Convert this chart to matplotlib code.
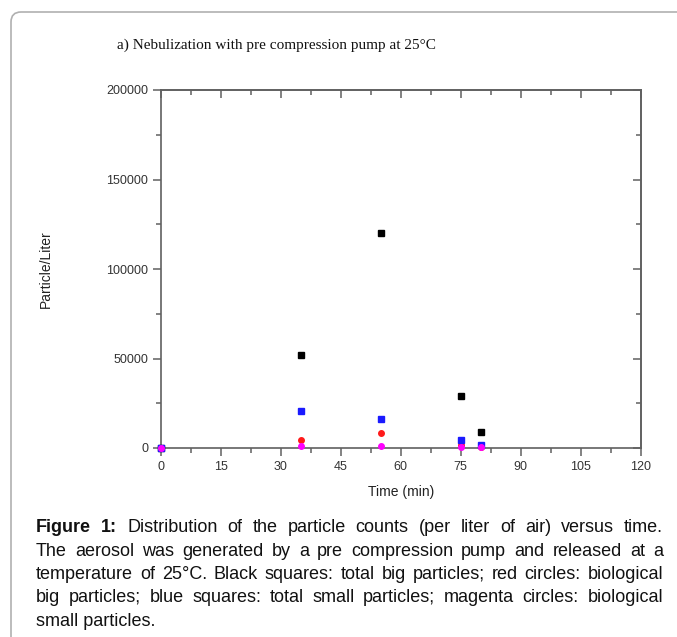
import matplotlib
matplotlib.use('Agg')
import matplotlib.pyplot as plt
from matplotlib.patches import FancyBboxPatch
from matplotlib.ticker import MultipleLocator
from matplotlib.transforms import IdentityTransform

# Values
times = [0, 35, 55, 75, 80]
total_big = [0, 52000, 120000, 29000, 8800]      # black squares
bio_big = [0, 4400, 8300, 1800, 400]             # red circles
total_small = [0, 20800, 16200, 4200, 1600]      # blue squares
bio_small = [0, 1100, 900, 700, 500]             # magenta circles

title = "a) Nebulization with pre compression pump at 25°C"
x_label = "Time (min)"
y_label = "Particle/Liter"
caption_lines = [
    "Figure 1: Distribution of the particle counts (per liter of air) versus time.",
    "The aerosol was generated by a pre compression pump and released at a",
    "temperature of 25°C. Black squares: total big particles; red circles: biological",
    "big particles; blue squares: total small particles; magenta circles: biological",
    "small particles.",
]

W, H = 677, 637
plt.rcParams['font.family'] = ['Liberation Sans', 'DejaVu Sans']


def fx(x):
    return x / W


def fy(y):
    return 1 - y / H


fig = plt.figure(figsize=(W / 100, H / 100), dpi=100)

# rounded frame around the whole figure panel
box = FancyBboxPatch((11, -60), 720, H - 12 + 60,
                     boxstyle='round,pad=0,rounding_size=10',
                     transform=IdentityTransform(), fill=False,
                     ec='#b0b0b0', lw=1.2)
fig.patches.append(box)

fig.text(fx(117), fy(45), title, family='Liberation Serif', fontsize=11,
         va='center', ha='left', color='#111111')

ax = fig.add_axes([fx(160.7), fy(448), (640.7 - 160.7) / W, (448 - 90) / H])
ax.plot(times, total_big, 's', color='black', ms=4, clip_on=False, zorder=3)
ax.plot(times, bio_big, 'o', color='#ff1a1a', ms=4, clip_on=False, zorder=3)
ax.plot(times, total_small, 's', color='#1a1aff', ms=4, clip_on=False, zorder=3)
ax.plot(times, bio_small, 'o', color='#ff00ff', ms=4, clip_on=False, zorder=3)

ax.set_xlim(0, 120)
ax.set_ylim(0, 200000)
ax.xaxis.set_major_locator(MultipleLocator(15))
ax.xaxis.set_minor_locator(MultipleLocator(7.5))
ax.yaxis.set_major_locator(MultipleLocator(50000))
ax.yaxis.set_minor_locator(MultipleLocator(25000))
ax.ticklabel_format(style='plain')

frame_col = '#606060'
for sp in ax.spines.values():
    sp.set_color(frame_col)
    sp.set_linewidth(1.2)
ax.tick_params(which='major', direction='out', length=6, width=1.1,
               colors=frame_col, labelcolor='#333333', labelsize=9, pad=3)
ax.tick_params(which='minor', direction='out', length=3.5, width=1.1,
               colors=frame_col)

# top and right axes carry inward ticks without labels
top = ax.secondary_xaxis('top')
right = ax.secondary_yaxis('right')
top.xaxis.set_major_locator(MultipleLocator(15))
top.xaxis.set_minor_locator(MultipleLocator(7.5))
right.yaxis.set_major_locator(MultipleLocator(50000))
right.yaxis.set_minor_locator(MultipleLocator(25000))
for sec in (top, right):
    for sp in sec.spines.values():
        sp.set_color(frame_col)
        sp.set_linewidth(1.2)
    sec.tick_params(which='major', direction='in', length=6, width=1.1,
                    colors=frame_col, labelleft=False, labelright=False,
                    labeltop=False, labelbottom=False)
    sec.tick_params(which='minor', direction='in', length=3.5, width=1.1,
                    colors=frame_col)

fig.text(fx(400.7), fy(492), x_label, fontsize=10, ha='center', va='center',
         color='#222222')
fig.text(fx(46), fy(269), y_label, fontsize=10, ha='center', va='center',
         rotation=90, color='#222222')

# justified caption, laid out word by word
renderer = fig.canvas.get_renderer()
cap_size = 13
x_left, x_right = 36, 663
baselines = [532, 555.5, 579, 602.5, 626]
for i, line in enumerate(caption_lines):
    yb = H - baselines[i]
    if i == len(caption_lines) - 1:
        fig.text(x_left, yb, line, fontsize=cap_size, transform=IdentityTransform(),
                 va='baseline', ha='left', color='#111111')
        continue
    words = line.split(' ')
    arts = []
    for j, w in enumerate(words):
        bold = i == 0 and j < 2
        t = fig.text(0, yb, w, fontsize=cap_size, transform=IdentityTransform(),
                     va='baseline', ha='left', color='#111111',
                     fontweight='bold' if bold else 'normal')
        arts.append(t)
    widths = [t.get_window_extent(renderer).width for t in arts]
    gap = (x_right - x_left - sum(widths)) / (len(arts) - 1)
    x = x_left
    for t, wd in zip(arts, widths):
        t.set_x(x)
        x += wd + gap

fig.savefig('out.png', dpi=100)
